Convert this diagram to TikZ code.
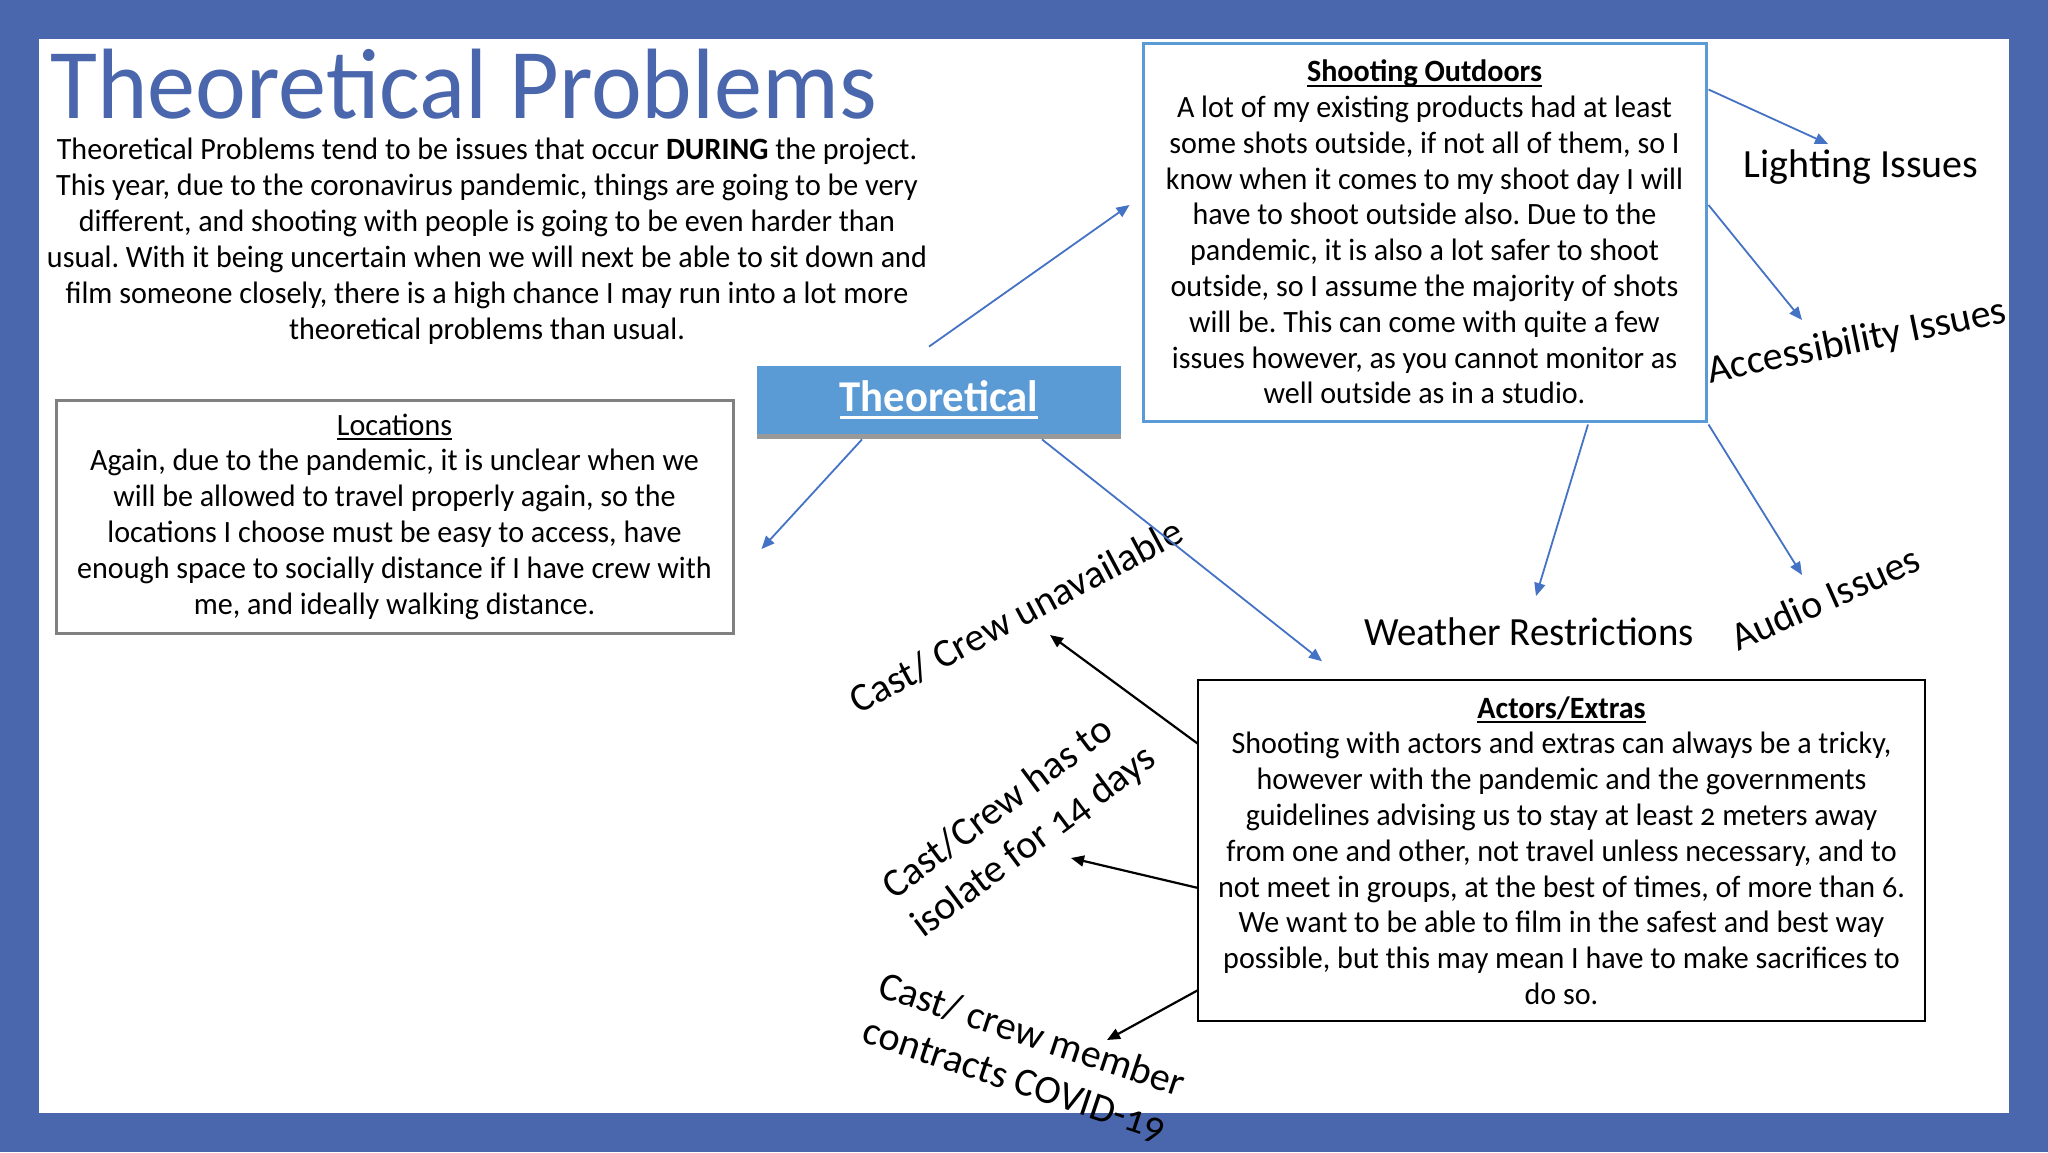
\documentclass[tikz,border=0pt]{standalone}
\usepackage{fontspec}
\setmainfont{Carlito}[Numbers=OldStyle]
\newfontfamily\bodyfont{Carlito}[FakeStretch=0.97, Numbers=OldStyle]
\newfontfamily\titlefont{Carlito}[FakeStretch=0.962]
\usetikzlibrary{arrows.meta,shadows,calc}
\newcommand\ulx[1]{\setbox0\hbox{#1}\rlap{\vrule height -0.10em depth 0.16em width \wd0}\box0}
\definecolor{frameblue}{RGB}{74,102,172}
\definecolor{lblue}{RGB}{91,155,213}
\definecolor{arrblue}{RGB}{68,114,196}
\definecolor{lgrey}{RGB}{128,128,128}
\tikzset{
  body/.style={align=center, inner sep=0pt, font=\bodyfont\frenchspacing\fontsize{15.5}{17.9}\selectfont},
  lbl/.style={inner sep=0pt, font=\fontsize{20}{24}\selectfont},
  barrow/.style={draw=arrblue, line width=0.9pt, -{Triangle[length=6.5pt,width=5.5pt]}},
  karrow/.style={draw=black, line width=1.1pt, -{Triangle[length=6.5pt,width=5.5pt]}},
}
\begin{document}
\begin{tikzpicture}[x=0.5pt,y=-0.5pt]
\fill[frameblue] (0,0) rectangle (2048,1152);
\fill[white] (39,39) rectangle (2009,1113);
\useasboundingbox (0,0) rectangle (2048,1152);

\node[anchor=base west, inner sep=0pt, text=frameblue, font=\titlefont\fontsize{50}{60}\selectfont] (title) at (50,118) {Theoretical Problems};

\node[body, font=\bodyfont\frenchspacing\fontsize{15.5}{18}\selectfont] (intro) at (487,241) {Theoretical Problems tend to be issues that occur \textbf{DURING} the project.\\
This year, due to the coronavirus pandemic, things are going to be very\\
different, and shooting with people is going to be even harder than\\
usual. With it being uncertain when we will next be able to sit down and\\
film someone closely, there is a high chance I may run into a lot more\\
theoretical problems than usual.};

\node[body, draw=lblue, line width=1.5pt, minimum width=281.5pt, minimum height=189pt] (shoot) at (1424.5,232) {\textbf{\ulx{Shooting Outdoors}}\\
A lot of my existing products had at least\\
some shots outside, if not all of them, so I\\
know when it comes to my shoot day I will\\
have to shoot outside also. Due to the\\
pandemic, it is also a lot safer to shoot\\
outside, so I assume the majority of shots\\
will be. This can come with quite a few\\
issues however, as you cannot monitor as\\
well outside as in a studio.};

\node[body, draw=lgrey, line width=1.5pt, minimum width=338.5pt, minimum height=116.5pt] (loc) at (394.5,516.5) {\ulx{Locations}\\
Again, due to the pandemic, it is unclear when we\\
will be allowed to travel properly again, so the\\
locations I choose must be easy to access, have\\
enough space to socially distance if I have crew with\\
me, and ideally walking distance.};

\node[body, draw=black, line width=0.8pt, minimum width=363.5pt, minimum height=170.5pt] (actors) at (1561.5,850.5) {\textbf{\ulx{Actors/Extras}}\\
Shooting with actors and extras can always be a tricky,\\
however with the pandemic and the governments\\
guidelines advising us to stay at least 2 meters away\\
from one and other, not travel unless necessary, and to\\
not meet in groups, at the best of times, of more than 6.\\
We want to be able to film in the safest and best way\\
possible, but this may mean I have to make sacrifices to\\
do so.};

\node[fill=lblue, minimum width=182pt, minimum height=34pt, inner sep=0pt, text=white,
  font=\bodyfont\bfseries\fontsize{22}{26}\selectfont,
  drop shadow={shadow xshift=0pt, shadow yshift=-2.5pt, fill=black, opacity=0.4}] (theo) at (939,400) {\ulx{Theoretical}};

\node[lbl] (light) at (1861,167) {Lighting Issues};
\node[lbl, rotate=11.6] (access) at (1857,342) {Accessibility Issues};
\node[lbl, font=\bodyfont\fontsize{20}{24}\selectfont] (weather) at (1529,632) {Weather Restrictions};
\node[lbl, rotate=24] (audio) at (1825,598) {Audio Issues};
\node[lbl, rotate=28] (unavail) at (1016,616) {Cast/ Crew unavailable};
\node[lbl, rotate=36.7, align=left] (isolate) at (1020,823) {Cast/Crew has to\\isolate for 14 days};
\node[lbl, rotate=-18.4, align=left] (covid) at (1024,1058) {Cast/ crew member\\contracts COVID-19};

\draw[barrow] ([shift={(-10,-19)}]theo.north) -- ([shift={(-12,-27)}]shoot.west);
\draw[barrow] ([shift={(-77,5)}]theo.south) -- ([shift={(27,32.5)}]loc.east);
\draw[barrow] ([shift={(103,5)}]theo.south) -- ([shift={(-239.5,-18)}]actors.north);
\draw[barrow] ([shift={(1,48)}]shoot.north east) -- ([shift={(-33,-23)}]light.center);
\draw[barrow] ([shift={(1,-27)}]shoot.east) -- ([shift={(-55,-22)}]access.center);
\draw[barrow] ([shift={(163.5,2)}]shoot.south) -- ([shift={(7,-36)}]weather.center);
\draw[barrow] ([shift={(1,2)}]shoot.south east) -- ([shift={(-23,-23)}]audio.center);

\draw[karrow] ([shift={(1,-106.5)}]actors.west) -- ([shift={(34,19)}]unavail.center);
\draw[karrow] ([shift={(1,37.5)}]actors.west) -- ([shift={(51,35)}]isolate.center);
\draw[karrow] ([shift={(1,139.5)}]actors.west) -- ([shift={(83,-18)}]covid.center);
\end{tikzpicture}
\end{document}
